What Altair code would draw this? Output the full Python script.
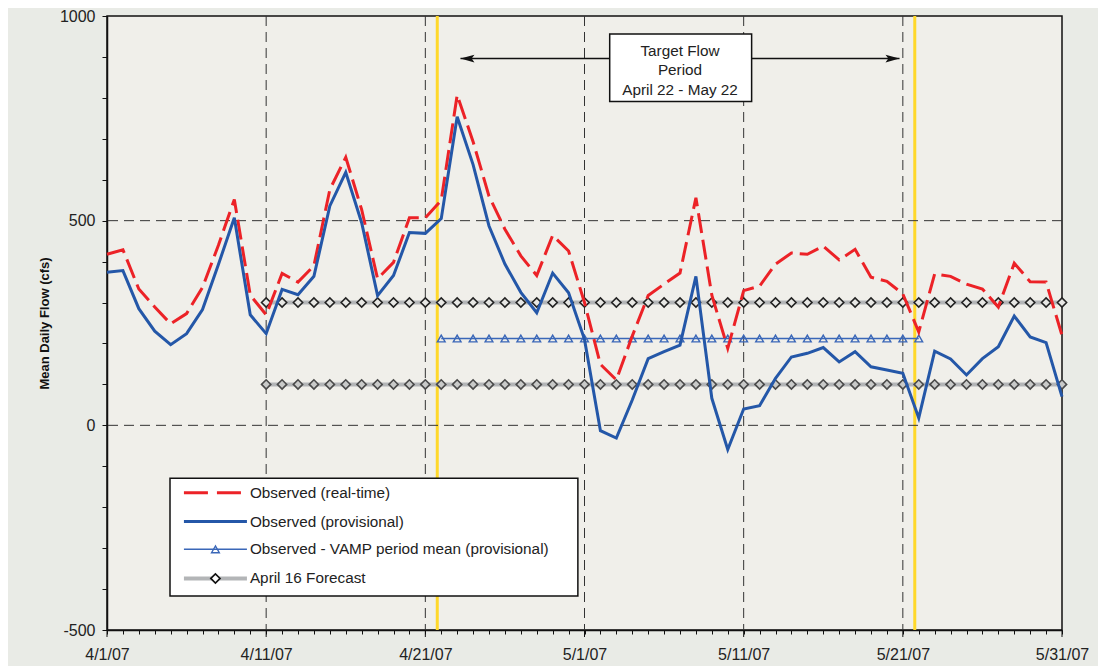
import altair as alt
import pandas as pd

# ---------------- data ----------------
dates = pd.date_range("2007-04-01", "2007-05-31", freq="D").strftime("%Y-%m-%d").tolist()

observed_realtime = [418, 429, 333, 289, 248, 273, 337, 440, 552, 318,
                     270, 371, 350, 390, 576, 655, 527, 358, 398, 507,
                     507, 550, 807, 693, 560, 479, 414, 366, 464, 426,
                     300, 149, 111, 218, 317, 345, 372, 556, 318, 188,
                     329, 340, 394, 421, 418, 438, 404, 430, 362, 352,
                     321, 228, 370, 364, 345, 333, 289, 396, 351, 350, 220]

observed_provisional = [374, 378, 285, 230, 197, 224, 283, 393, 507, 270,
                        224, 332, 319, 364, 536, 618, 495, 317, 366, 471,
                        469, 505, 754, 637, 487, 394, 325, 275, 372, 324,
                        210, -13, -31, 62, 163, 180, 196, 364, 66, -59,
                        40, 48, 115, 167, 176, 190, 155, 180, 143, 135,
                        127, 18, 181, 162, 123, 163, 192, 267, 216, 202, 70]

vamp_dates = dates[21:52]           # 4/22 .. 5/22
vamp_mean = [212, 212, 212, 212, 212, 212, 212, 212, 212, 212,
             212, 212, 212, 212, 212, 212, 212, 212, 212, 212,
             212, 212, 212, 212, 212, 212, 212, 212, 212, 212, 212]

forecast_dates = dates[10:]         # 4/11 .. 5/31
forecast_high = [300, 300, 300, 300, 300, 300, 300, 300, 300, 300,
                 300, 300, 300, 300, 300, 300, 300, 300, 300, 300,
                 300, 300, 300, 300, 300, 300, 300, 300, 300, 300,
                 300, 300, 300, 300, 300, 300, 300, 300, 300, 300,
                 300, 300, 300, 300, 300, 300, 300, 300, 300, 300, 300]
forecast_low = [100, 100, 100, 100, 100, 100, 100, 100, 100, 100,
                100, 100, 100, 100, 100, 100, 100, 100, 100, 100,
                100, 100, 100, 100, 100, 100, 100, 100, 100, 100,
                100, 100, 100, 100, 100, 100, 100, 100, 100, 100,
                100, 100, 100, 100, 100, 100, 100, 100, 100, 100, 100]

target_period_marks = ["2007-04-21T18:00:00Z", "2007-05-21T18:00:00Z"]
grid_dates = ["2007-04-11", "2007-04-21", "2007-05-01", "2007-05-11", "2007-05-21"]
major_tick_dates = ["2007-04-01", "2007-04-11", "2007-04-21", "2007-05-01",
                    "2007-05-11", "2007-05-21", "2007-05-31"]
grid_values = [0, 500]

y_tick_values = [-500, -400, -300, -200, -100, 0, 100, 200, 300, 400,
                 500, 600, 700, 800, 900, 1000]

legend_labels = ["Observed (real-time)", "Observed (provisional)",
                 "Observed - VAMP period mean (provisional)", "April 16 Forecast"]
target_lines = ["Target Flow", "Period", "April 22 - May 22"]

FONT = "Liberation Sans"
RED = "#ec2227"
BLUE = "#2457a8"
BLUE_THIN = "#3a67b8"
GREY = "#b3b5b7"
YELLOW = "#ffd82a"
TXT = 15.3
PLOT_H = 614

tick_ms = [int(pd.Timestamp(d, tz="UTC").value // 10**6) for d in dates]

XS = alt.Scale(type="utc", domain=[tick_ms[0], tick_ms[-1]], nice=False)
YS = alt.Scale(domain=[-500, 1000], nice=False, zero=False)

x_axis = alt.Axis(
    values=tick_ms,
    labelExpr="utcdate(datum.value) % 10 == 1 ? utcFormat(datum.value, '%-m/%-d/%y') : ''",
    tickSize=4,
    labelOverlap=False, labelFlush=False, labelBound=False,
    grid=False, title=None,
    domainColor="#111", domainWidth=1.5, tickColor="#111", tickWidth=1,
    labelFont=FONT, labelFontSize=16, labelColor="#222", labelPadding=12,
)
y_axis = alt.Axis(
    values=y_tick_values,
    labelExpr="datum.value % 500 == 0 ? '' + datum.value : ''",
    tickSize=5, grid=False, labelOverlap=False,
    domainColor="#111", domainWidth=1.5, tickColor="#111",
    labelFont=FONT, labelFontSize=16, labelColor="#222", labelPadding=7,
    title="Mean Daily Flow (cfs)", titleFont=FONT, titleFontSize=13,
    titleFontWeight="bold", titleColor="#111", titlePadding=8,
)


def X(field="date"):
    return alt.X(f"{field}:T", scale=XS, axis=x_axis)


def Y(field="value"):
    return alt.Y(f"{field}:Q", scale=YS, axis=y_axis)


# ---------------- tables ----------------
df_rt = pd.DataFrame({"date": dates, "value": observed_realtime})
df_pv = pd.DataFrame({"date": dates, "value": observed_provisional})
df_vamp = pd.DataFrame({"date": vamp_dates, "value": vamp_mean})
df_fh = pd.DataFrame({"date": forecast_dates, "value": forecast_high})
df_fl = pd.DataFrame({"date": forecast_dates, "value": forecast_low})
df_yel = pd.DataFrame({"date": target_period_marks})
df_vg = pd.DataFrame({"date": grid_dates})
df_hg = pd.DataFrame({"value": grid_values})
df_mt = pd.DataFrame({"date": major_tick_dates})

yellow = alt.Chart(df_yel).mark_rule(color=YELLOW, strokeWidth=3).encode(x=X())
vgrid = alt.Chart(df_vg).mark_rule(color="#333", strokeWidth=1, strokeDash=[10, 6]).encode(x=X())
hgrid = alt.Chart(df_hg).mark_rule(color="#333", strokeWidth=1, strokeDash=[10, 6]).encode(y=Y())
major_ticks = alt.Chart(df_mt).mark_rule(color="#111", strokeWidth=1).encode(
    x=X(), y=alt.value(PLOT_H), y2=alt.value(PLOT_H + 7))

fh_line = alt.Chart(df_fh).mark_line(color=GREY, strokeWidth=4).encode(x=X(), y=Y())
fh_pts = alt.Chart(df_fh).mark_point(shape="diamond", size=85, filled=True, fill="#e8e8e5",
                                     stroke="#222", strokeWidth=1.6, opacity=1).encode(x=X(), y=Y())
fl_line = alt.Chart(df_fl).mark_line(color=GREY, strokeWidth=4).encode(x=X(), y=Y())
fl_pts = alt.Chart(df_fl).mark_point(shape="diamond", size=85, filled=True, fill="#c9cac9",
                                     stroke="#4a4a4a", strokeWidth=1.6, opacity=1).encode(x=X(), y=Y())

vamp_line = alt.Chart(df_vamp).mark_line(color=BLUE_THIN, strokeWidth=1.5).encode(x=X(), y=Y())
vamp_pts = alt.Chart(df_vamp).mark_point(shape="triangle-up", size=60, filled=False,
                                         color=BLUE_THIN, strokeWidth=1.4, opacity=1).encode(x=X(), y=Y())

rt_line = alt.Chart(df_rt).mark_line(color=RED, strokeWidth=3, strokeDash=[20, 7]).encode(x=X(), y=Y())
pv_line = alt.Chart(df_pv).mark_line(color=BLUE, strokeWidth=3).encode(x=X(), y=Y())

# ---------------- target-period annotation ----------------
df_arrow = pd.DataFrame({"date": ["2007-04-23T05:00:00Z"], "date2": ["2007-05-20T19:00:00Z"], "value": [896]})
arrow = alt.Chart(df_arrow).mark_rule(color="#111", strokeWidth=1.5).encode(
    x=X(), x2="date2:T", y=Y())
df_head_l = pd.DataFrame({"date": ["2007-04-23T05:00:00Z"], "value": [896]})
df_head_r = pd.DataFrame({"date": ["2007-05-20T19:00:00Z"], "value": [896]})
head_l = alt.Chart(df_head_l).mark_point(shape="M0,0L2,-0.55L1.6,0L2,0.55Z", size=196, filled=True,
                                         color="#111", opacity=1).encode(x=X(), y=Y())
head_r = alt.Chart(df_head_r).mark_point(shape="M0,0L-2,-0.55L-1.6,0L-2,0.55Z", size=196, filled=True,
                                         color="#111", opacity=1).encode(x=X(), y=Y())
df_tbox = pd.DataFrame({"date": ["2007-05-02T14:00:00Z"], "date2": ["2007-05-11T12:00:00Z"],
                        "value": [956], "value2": [791]})
tbox = alt.Chart(df_tbox).mark_rect(fill="white", stroke="#111", strokeWidth=1.5).encode(
    x=X(), x2="date2:T", y=Y(), y2="value2:Q")
df_ttext = pd.DataFrame({"date": ["2007-05-07T00:00:00Z"] * 3, "value": [914, 867, 820], "text": target_lines})
ttext = alt.Chart(df_ttext).mark_text(font=FONT, fontSize=TXT, color="#222", align="center",
                                      baseline="middle").encode(x=X(), y=Y(), text="text:N")

# ---------------- legend ----------------
df_lbox = pd.DataFrame({"date": ["2007-04-04T23:00:00Z"], "date2": ["2007-04-30T14:00:00Z"],
                        "value": [-129], "value2": [-417]})
lbox = alt.Chart(df_lbox).mark_rect(fill="white", stroke="#111", strokeWidth=1.5).encode(
    x=X(), x2="date2:T", y=Y(), y2="value2:Q")
ls, le, lc, lt = "2007-04-05T20:00:00Z", "2007-04-09T19:00:00Z", "2007-04-07T19:30:00Z", "2007-04-09T23:30:00Z"
rows = [-165, -235, -303, -374]


def seg(v, **kw):
    d = pd.DataFrame({"date": [ls], "date2": [le], "value": [v]})
    return alt.Chart(d).mark_rule(**kw).encode(x=X(), x2="date2:T", y=Y())


def sym(v, **kw):
    d = pd.DataFrame({"date": [lc], "value": [v]})
    return alt.Chart(d).mark_point(opacity=1, **kw).encode(x=X(), y=Y())


leg1 = seg(rows[0], color=RED, strokeWidth=3, strokeDash=[24, 9])
leg2 = seg(rows[1], color=BLUE, strokeWidth=3)
leg3 = seg(rows[2], color=BLUE_THIN, strokeWidth=1.5)
leg3s = sym(rows[2], shape="triangle-up", size=60, filled=False, color=BLUE_THIN, strokeWidth=1.4)
leg4 = seg(rows[3], color=GREY, strokeWidth=4)
leg4s = sym(rows[3], shape="diamond", size=85, filled=True, fill="white", stroke="#111", strokeWidth=1.6)
df_ltext = pd.DataFrame({"date": [lt] * 4, "value": rows, "text": legend_labels})
ltext = alt.Chart(df_ltext).mark_text(font=FONT, fontSize=TXT, color="#222", align="left",
                                      baseline="middle").encode(x=X(), y=Y(), text="text:N")

chart = alt.layer(
    yellow, vgrid, hgrid,
    fh_line, fl_line, fh_pts, fl_pts,
    vamp_line, vamp_pts,
    rt_line, pv_line,
    arrow, tbox, ttext, head_l, head_r,
    lbox, leg1, leg2, leg3, leg3s, leg4, leg4s, ltext,
    major_ticks,
).properties(
    width=955, height=PLOT_H,
    autosize=alt.AutoSizeParams(type="none"),
    padding={"left": 99, "top": 8, "right": 36, "bottom": 36},
    background="#e9ebe6",
).configure_view(
    fill="#f0efea", stroke="#111", strokeWidth=1.5,
)

chart.save("out.html", embed_options={"renderer": "svg", "actions": False})
